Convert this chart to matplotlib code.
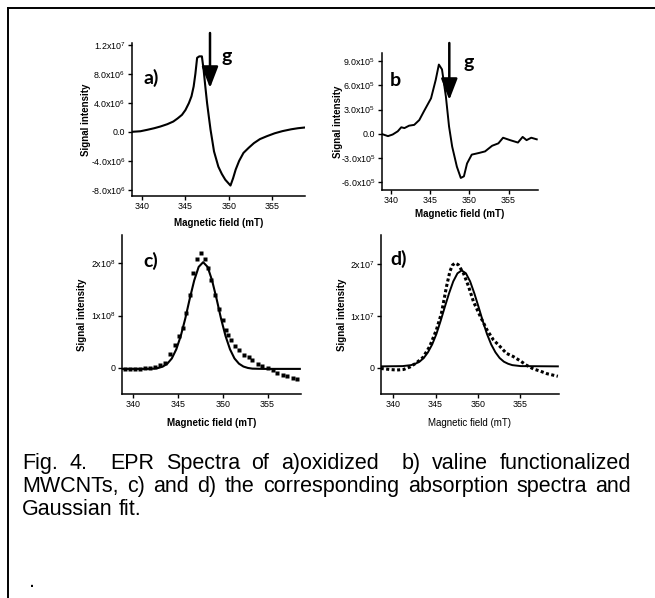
import matplotlib
matplotlib.use("Agg")
import matplotlib.pyplot as plt
from matplotlib.lines import Line2D

plt.rcParams['font.family'] = ['Liberation Sans', 'DejaVu Sans']
plt.rcParams['mathtext.fontset'] = 'custom'
plt.rcParams['mathtext.rm'] = 'Liberation Sans'
plt.rcParams['mathtext.default'] = 'regular'

# ---- data ----
# a) oxidized MWCNTs, derivative spectrum (signal in units of 1e6)
a_field = [338.8, 339.8, 340.6, 341.4, 342.1, 342.9, 343.6, 344.1, 344.6, 345.0,
           345.4, 345.7, 345.95, 346.15, 346.35, 346.6, 346.9, 347.1, 347.3, 347.5,
           347.7, 347.9, 348.1, 348.3, 348.8, 349.2, 349.6, 349.9, 350.2, 350.5,
           350.8, 351.2, 351.7, 352.3, 352.9, 353.6, 354.4, 355.3, 356.2, 357.2,
           358.0, 358.8]
a_signal = [0.0, 0.08, 0.28, 0.5, 0.73, 1.05, 1.42, 1.85, 2.34, 3.0,
            3.96, 4.9, 6.25, 8.0, 10.2, 10.4, 10.4, 8.55, 6.2, 3.96,
            2.1, 0.28, -1.2, -2.7, -4.8, -5.8, -6.6, -7.0, -7.4, -6.4,
            -5.2, -4.0, -2.9, -2.2, -1.56, -1.0, -0.6, -0.2, 0.1, 0.35,
            0.5, 0.6]

# b) valine functionalized MWCNTs, derivative spectrum (units of 1e5)
b_field = [338.7, 339.6, 340.2, 340.85, 341.3, 341.7, 342.3, 342.95, 343.6, 344.2,
           345.1, 345.7, 346.1, 346.5, 347.0, 347.4, 347.8, 348.4, 348.9, 349.3,
           349.7, 350.3, 351.2, 352.0, 352.9, 353.7, 354.3, 355.2, 356.2, 356.8,
           357.3, 357.9, 358.6]
b_signal = [0.0, -0.3, -0.1, 0.3, 0.8, 0.7, 1.0, 1.1, 1.7, 2.8,
            4.4, 6.7, 8.6, 8.0, 4.6, 0.9, -1.6, -4.1, -5.5, -5.3,
            -3.7, -2.6, -2.4, -2.2, -1.5, -1.2, -0.5, -0.8, -1.1, -0.4,
            -0.8, -0.5, -0.7]

# c) absorption spectrum of a) (units of 1e8) and Gaussian fit
c_field = [339.1, 339.6, 340.2, 340.7, 341.3, 341.85, 342.4, 343.0, 343.5, 344.1,
           344.7, 345.1, 345.5, 345.85, 346.3, 346.7, 347.15, 347.6, 347.97, 348.3,
           348.7, 349.1, 349.56, 350.0, 350.37, 350.56, 350.9, 351.4, 351.85, 352.4,
           352.9, 353.3, 353.9, 354.4, 355.0, 355.6, 356.1, 356.7, 357.2, 357.8,
           358.3]
c_absorb = [-0.025, -0.025, -0.02, -0.015, -0.01, 0.0, 0.02, 0.05, 0.1, 0.26,
            0.43, 0.6, 0.77, 1.04, 1.39, 1.81, 2.09, 2.19, 2.09, 1.9,
            1.68, 1.39, 1.12, 0.91, 0.73, 0.63, 0.53, 0.42, 0.34, 0.24,
            0.2, 0.15, 0.08, 0.03, -0.01, -0.04, -0.09, -0.13, -0.16, -0.19,
            -0.22]
c_fit_field = [338.8, 340.0, 341.5, 342.3, 342.8, 343.3, 343.8, 344.3, 344.8, 345.3,
               345.8, 346.3, 346.8, 347.3, 347.8, 348.3, 348.8, 349.3, 349.8, 350.3,
               350.8, 351.3, 351.8, 352.3, 352.8, 353.3, 354.5, 358.6]
c_fit = [-0.02, -0.02, -0.02, -0.015, -0.002, 0.025, 0.08, 0.18, 0.355, 0.61,
         0.94, 1.32, 1.67, 1.93, 2.02, 1.93, 1.67, 1.32, 0.94, 0.61,
         0.355, 0.18, 0.08, 0.025, -0.002, -0.015, -0.02, -0.02]

# d) absorption spectrum of b) (units of 1e7) and Gaussian fit
d_field = [338.5, 339.6, 340.4, 341.2, 342.0, 342.75, 343.5, 344.3, 345.1, 345.7,
           346.3, 346.7, 347.0, 347.3, 347.7, 348.3, 348.9, 349.5, 350.3, 351.1,
           351.85, 352.65, 353.4, 354.2, 355.0, 355.8, 356.6, 357.4, 358.2, 359.5]
d_absorb = [-0.01, -0.03, -0.04, -0.03, 0.02, 0.1, 0.2, 0.41, 0.73, 1.05,
            1.56, 1.85, 1.97, 2.01, 1.98, 1.82, 1.57, 1.27, 0.99, 0.73,
            0.54, 0.41, 0.28, 0.22, 0.14, 0.05, -0.02, -0.06, -0.11, -0.16]
d_fit_field = [338.5, 341.1, 342.1, 342.6, 343.1, 343.6, 344.1, 344.6, 345.1, 345.6,
               346.1, 346.6, 347.1, 347.6, 348.1, 348.6, 349.1, 349.6, 350.1, 350.6,
               351.1, 351.6, 352.1, 352.6, 353.1, 353.6, 354.1, 355.1, 359.5]
d_fit = [0.03, 0.035, 0.054, 0.08, 0.12, 0.19, 0.30, 0.45, 0.65, 0.90,
         1.17, 1.43, 1.66, 1.815, 1.87, 1.815, 1.66, 1.43, 1.17, 0.90,
         0.65, 0.45, 0.30, 0.19, 0.12, 0.08, 0.054, 0.035, 0.03]

x_ticks = [340, 345, 350, 355]
a_yticks = [-8e6, -4e6, 0, 4e6, 8e6, 1.2e7]
a_ylabels = ['-8.0x10$^{6}$', '-4.0x10$^{6}$', '0.0', '4.0x10$^{6}$', '8.0x10$^{6}$', '1.2x10$^{7}$']
b_yticks = [-6e5, -3e5, 0, 3e5, 6e5, 9e5]
b_ylabels = ['-6.0x10$^{5}$', '-3.0x10$^{5}$', '0.0', '3.0x10$^{5}$', '6.0x10$^{5}$', '9.0x10$^{5}$']
c_yticks = [0, 1e8, 2e8]
c_ylabels = ['0', '1x10$^{8}$', '2x10$^{8}$']
d_yticks = [0, 1e7, 2e7]
d_ylabels = ['0', '1x10$^{7}$', '2x10$^{7}$']

caption = ["Fig. 4.  EPR Spectra of a)oxidized  b) valine functionalized",
           "MWCNTs, c) and d) the corresponding absorption spectra and",
           "Gaussian fit."]

W, H = 655, 598
fig = plt.figure(figsize=(W / 100, H / 100), dpi=100)


def make_axes(left, top, right, bottom):
    # box given in pixels from the top-left corner
    ax = fig.add_axes([left / W, 1 - bottom / H, (right - left) / W, (bottom - top) / H])
    for s in ['top', 'right']:
        ax.spines[s].set_visible(False)
    for s in ['left', 'bottom']:
        ax.spines[s].set_linewidth(1.1)
    ax.tick_params(direction='out', length=3, width=1, labelsize=6.4, pad=1.5)
    ax.set_xticks(x_ticks)
    return ax


def style(ax, xlim, ylim, yticks, ylabels, ylab_x, xlab_y, bold_x=True):
    ax.set_xlim(*xlim)
    ax.set_ylim(*ylim)
    ax.set_yticks(yticks)
    ax.set_yticklabels(ylabels)
    ax.set_xlabel('Magnetic field (mT)', fontsize=7, fontweight='bold' if bold_x else 'normal')
    ax.set_ylabel('Signal intensity', fontsize=7, fontweight='bold')
    ax.yaxis.set_label_coords(ylab_x, 0.5)
    ax.xaxis.set_label_coords(0.5, xlab_y)


ax_a = make_axes(131.7, 43.3, 305, 195.7)
ax_a.plot(a_field, [v * 1e6 for v in a_signal], color='k', lw=1.5)
style(ax_a, (338.8, 358.8), (-8.8e6, 1.22e7), a_yticks, a_ylabels, -0.235, -0.145)

ax_b = make_axes(381.7, 53.3, 538.3, 190)
ax_b.plot(b_field, [v * 1e5 for v in b_signal], color='k', lw=1.4)
style(ax_b, (338.8, 358.8), (-7e5, 1.0e6), b_yticks, b_ylabels, -0.245, -0.14)

ax_c = make_axes(121.7, 235, 300.7, 394)
ax_c.plot(c_fit_field, [v * 1e8 for v in c_fit], color='k', lw=1.5)
ax_c.plot(c_field, [v * 1e8 for v in c_absorb], 's', color='k', ms=2.2, mec='none')
style(ax_c, (338.7, 358.7), (-0.5e8, 2.54e8), c_yticks, c_ylabels, -0.195, -0.15)

ax_d = make_axes(380.7, 235, 558.7, 394)
ax_d.plot(d_fit_field, [v * 1e7 for v in d_fit], color='k', lw=1.4)
ax_d.plot(d_field, [v * 1e7 for v in d_absorb], color='k', lw=2.2, ls=(0, (1, 0.8)))
style(ax_d, (338.5, 359.6), (-0.5e7, 2.55e7), d_yticks, d_ylabels, -0.19, -0.15, bold_x=False)

# panel letters and g-arrows (pixel positions from top-left)
lab_font = dict(fontsize=14, fontweight='bold', family=['Lato', 'DejaVu Sans'])
for txt, x, y in [('a)', 143, 84), ('g', 222, 62), ('b', 390, 86.5), ('g', 463, 68),
                  ('c)', 143, 267), ('d)', 390, 265)]:
    fig.text(x / W, 1 - y / H, txt, ha='left', va='baseline', **lab_font)

for x, y0, y1 in [(210, 33, 88), (449.3, 43, 100)]:
    fig.add_artist(matplotlib.patches.FancyArrowPatch(
        (x / W, 1 - y0 / H), (x / W, 1 - y1 / H), transform=fig.transFigure,
        arrowstyle='-|>,head_width=5,head_length=13', lw=1.8, color='k',
        mutation_scale=1, shrinkA=0, shrinkB=0))

# justified caption
renderer = fig.canvas.get_renderer()
cap_size = 15.5
x_left, x_right = 22, 631


def text_width(s):
    t = fig.text(0, 0, s, fontsize=cap_size)
    w = t.get_window_extent(renderer).width
    t.remove()
    return w


space_w = text_width('a a') - 2 * text_width('a')
for i, (line, base) in enumerate(zip(caption, [469, 492, 515])):
    words = line.split(' ')
    widths = [text_width(w) if w else 0 for w in words]
    if i < len(caption) - 1:
        gap = (x_right - x_left - sum(widths)) / (len(words) - 1)
    else:
        gap = space_w
    x = x_left
    for w, wd in zip(words, widths):
        if w:
            fig.text(x / W, 1 - base / H, w, fontsize=cap_size, ha='left', va='baseline')
        x += wd + gap

fig.text(29 / W, 1 - 587 / H, '.', fontsize=cap_size, ha='left', va='baseline')

# page frame (left and top edges)
fig.add_artist(Line2D([7.5 / W, 7.5 / W], [0, 1 - 7.5 / H], color='k', lw=1.4, transform=fig.transFigure))
fig.add_artist(Line2D([7.5 / W, 1], [1 - 7.5 / H, 1 - 7.5 / H], color='k', lw=1.4, transform=fig.transFigure))

fig.savefig('out.png', dpi=100)
